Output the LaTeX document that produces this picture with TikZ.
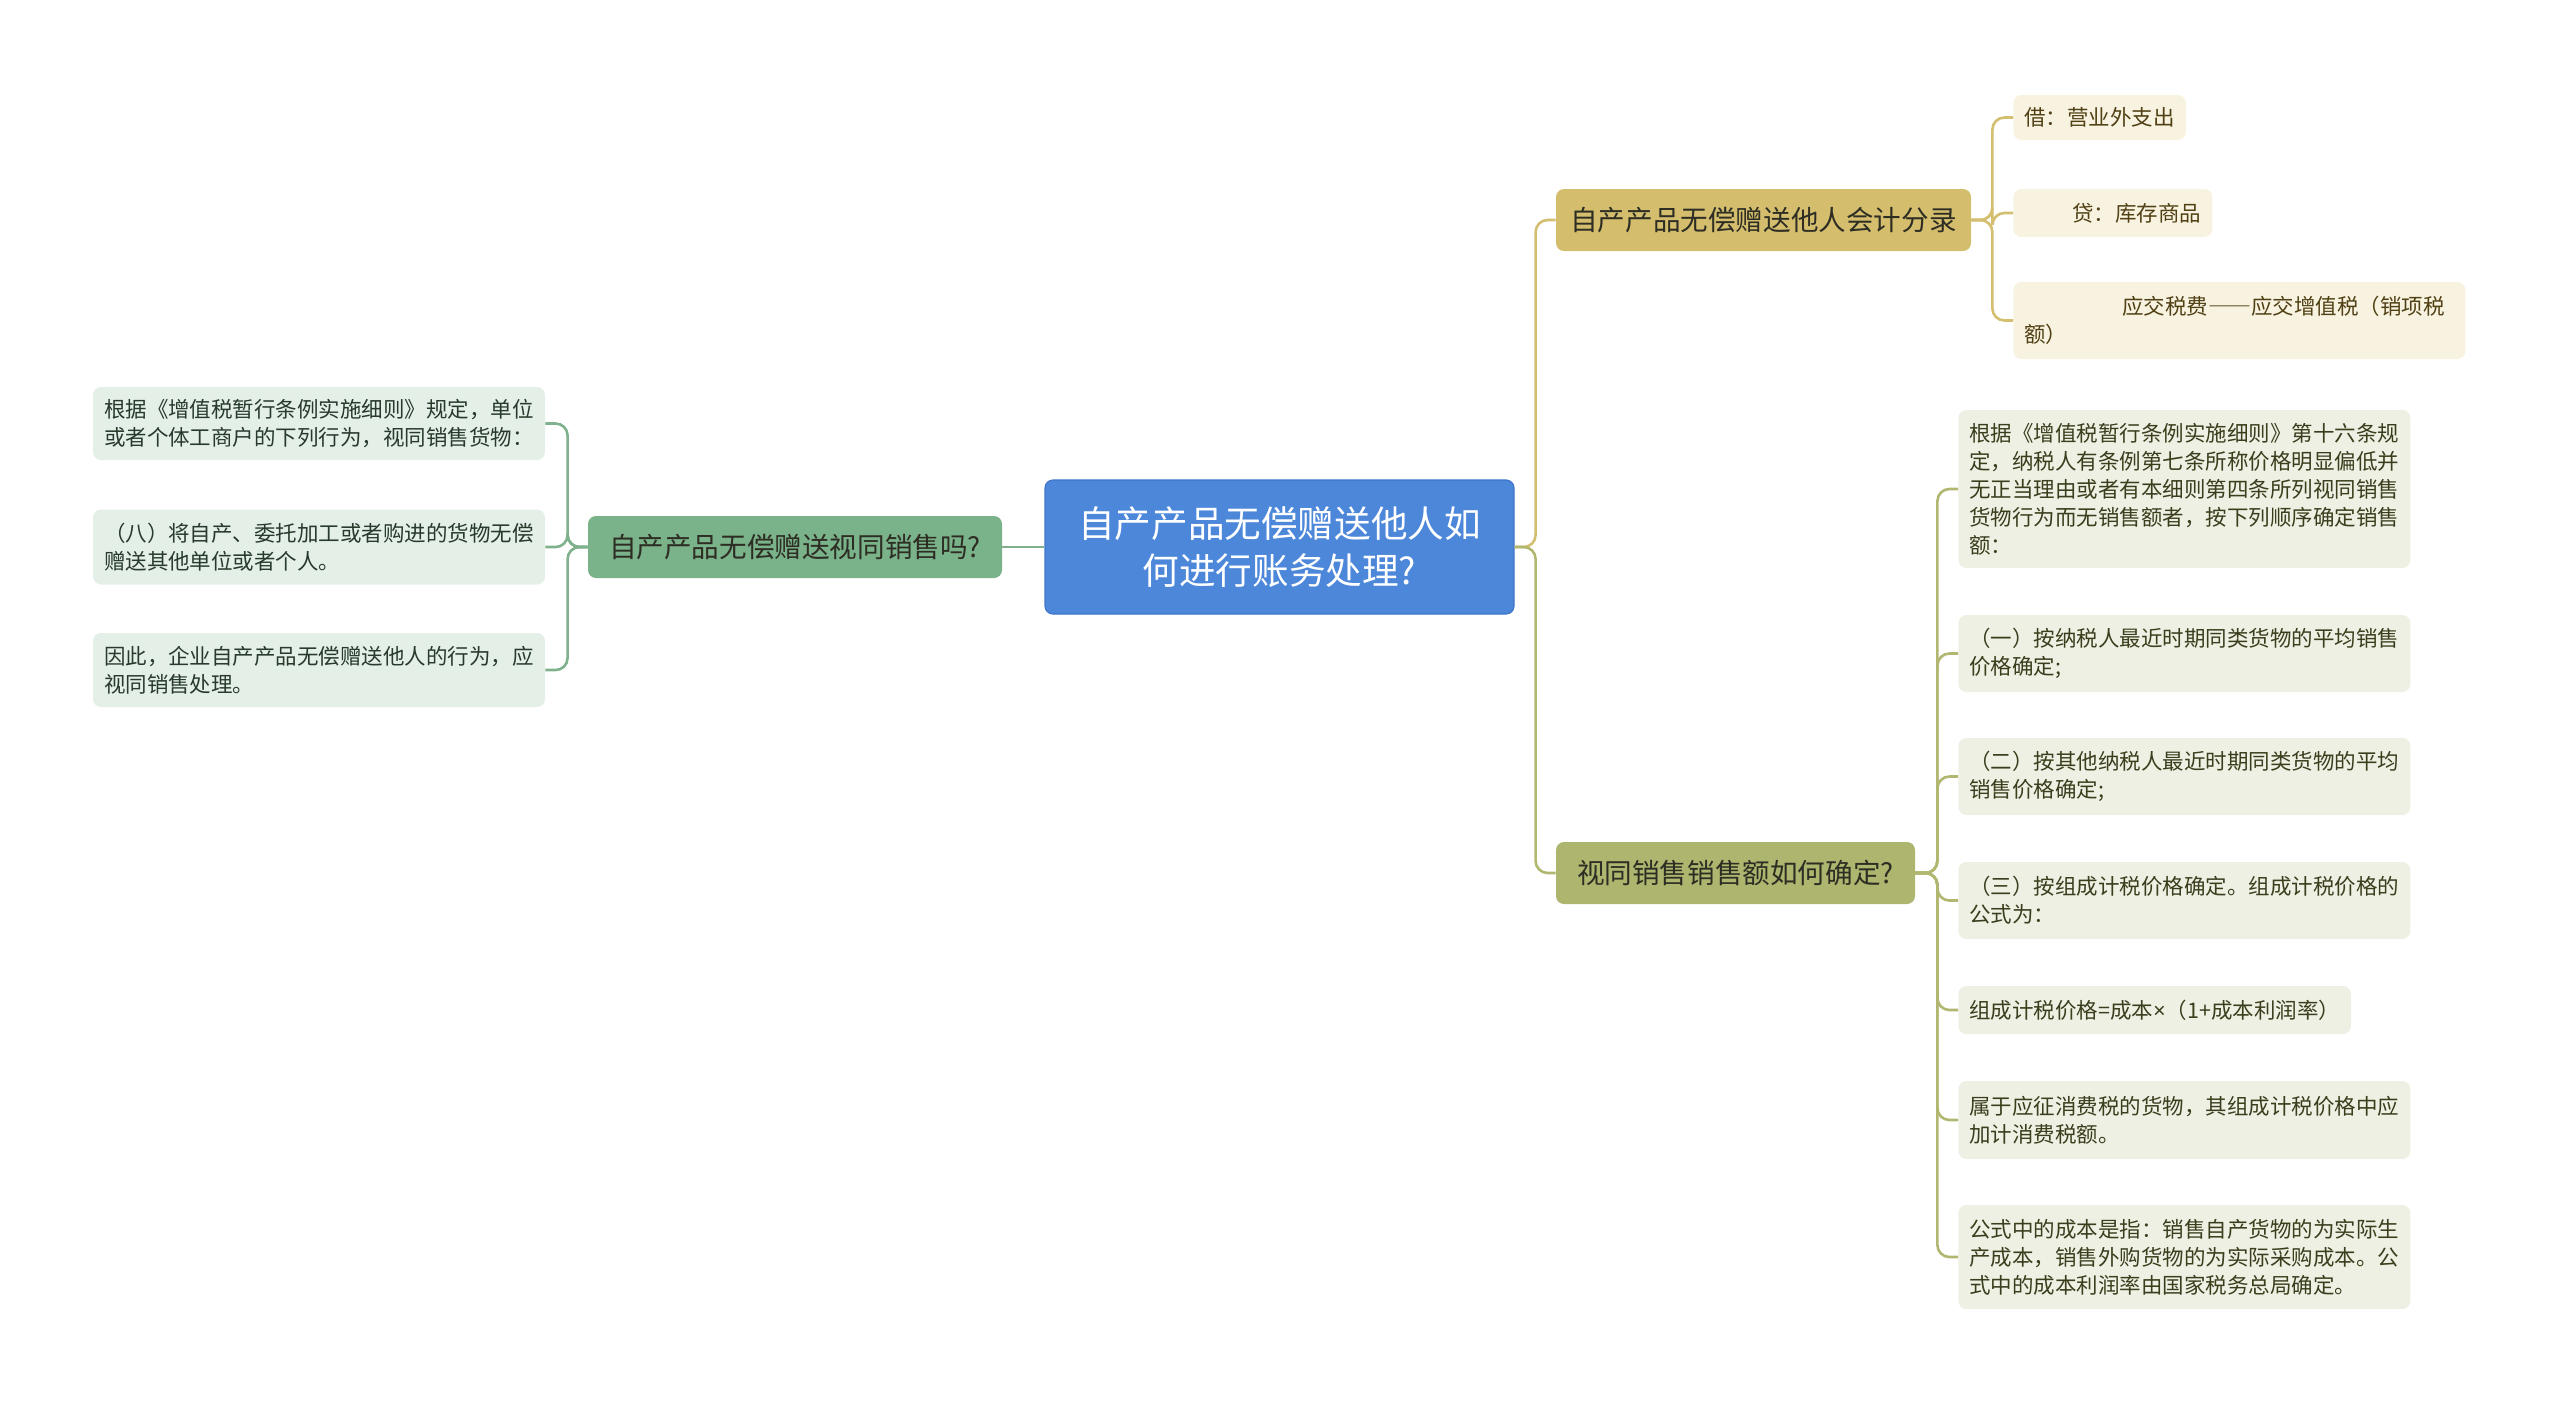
\documentclass[tikz,border=0pt]{standalone}
\usepackage{fontspec}
\setmainfont{Noto Sans CJK SC}
\newfontfamily\latinfont{Noto Sans}
\usetikzlibrary{positioning}
\definecolor{root-blue}{RGB}{76, 135, 218}
\definecolor{root-edge}{RGB}{62, 118, 200}
\definecolor{branch-green}{RGB}{122, 178, 138}
\definecolor{leaf-green}{RGB}{228, 239, 231}
\definecolor{line-green}{RGB}{127, 178, 140}
\definecolor{text-green}{RGB}{40, 58, 44}
\definecolor{branch-gold}{RGB}{212, 190, 110}
\definecolor{leaf-gold}{RGB}{248, 243, 225}
\definecolor{line-gold}{RGB}{212, 191, 112}
\definecolor{text-gold}{RGB}{80, 64, 20}
\definecolor{branch-olive}{RGB}{173, 181, 110}
\definecolor{leaf-olive}{RGB}{239, 240, 228}
\definecolor{line-olive}{RGB}{177, 183, 112}
\definecolor{text-olive}{RGB}{58, 62, 28}
\definecolor{text-dark}{RGB}{45, 45, 35}

\tikzset{
  root/.style={fill=root-blue, draw=root-edge, line width=0.6pt, rounded corners=4pt,
    text=white, align=center, minimum width=234.5pt, minimum height=67pt,
    font=\fontsize{18.3}{23.7}\selectfont},
  branch/.style={rounded corners=4pt, text=text-dark, minimum height=31pt,
    inner xsep=5pt, font=\fontsize{13.8}{17}\selectfont},
  leaf/.style={rounded corners=4pt, align=left, inner xsep=5.5pt, inner ysep=4.5pt,
    font=\fontsize{10.75}{14}\selectfont},
  longleaf/.style={leaf, text width=215pt},
  link/.style={line width=1.3pt, rounded corners=6pt}
}

\begin{document}
\begin{tikzpicture}[x=0.5pt, y=-0.5pt]
\useasboundingbox (0,0) rectangle (2560,1404);

% centre
\node[root] (root) at (1279.5,547) {自产产品无偿赠送他人如\\何进行账务处理?};

% left side
\node[branch, fill=branch-green, minimum width=207pt] (same) at (795,547) {自产产品无偿赠送视同销售吗?};
\node[longleaf, fill=leaf-green, text=text-green, minimum height=36.5pt] (rule) at (319,423.5)
  {根据《增值税暂行条例实施细则》规定，单位\\或者个体工商户的下列行为，视同销售货物：};
\node[longleaf, fill=leaf-green, text=text-green, minimum height=37.5pt] (eight) at (319,547)
  {（八）将自产、委托加工或者购进的货物无偿\\赠送其他单位或者个人。};
\node[longleaf, fill=leaf-green, text=text-green, minimum height=37pt] (hence) at (319,670)
  {因此，企业自产产品无偿赠送他人的行为，应\\视同销售处理。};

% right side, entries
\node[branch, fill=branch-gold, minimum width=207.5pt] (entry) at (1763.5,220) {自产产品无偿赠送他人会计分录};
\node[leaf, fill=leaf-gold, text=text-gold, anchor=west, minimum height=22.5pt] (debit) at (2013,117.5)
  {借：营业外支出};
\node[leaf, fill=leaf-gold, text=text-gold, anchor=west, minimum height=24pt] (credit) at (2013,213)
  {\hspace*{24pt}贷：库存商品};
\node[longleaf, fill=leaf-gold, text=text-gold, anchor=west, minimum height=38.5pt] (vat) at (2013,320.5)
  {\hspace*{49pt}应交税费{\addfontfeature{RawFeature=+fwid}——}应交增值税（销项税\\额）};

% right side, amount
\node[branch, fill=branch-olive, minimum width=179.5pt] (amount) at (1735.5,873) {视同销售销售额如何确定?};
\node[longleaf, fill=leaf-olive, text=text-olive, anchor=west, minimum height=79pt] (art) at (1958,489)
  {根据《增值税暂行条例实施细则》第十六条规\\定，纳税人有条例第七条所称价格明显偏低并\\无正当理由或者有本细则第四条所列视同销售\\货物行为而无销售额者，按下列顺序确定销售\\额：};
\node[longleaf, fill=leaf-olive, text=text-olive, anchor=west, minimum height=38.5pt] (one) at (1958,653.5)
  {（一）按纳税人最近时期同类货物的平均销售\\价格确定;};
\node[longleaf, fill=leaf-olive, text=text-olive, anchor=west, minimum height=38.5pt] (two) at (1958,776.5)
  {（二）按其他纳税人最近时期同类货物的平均\\销售价格确定;};
\node[longleaf, fill=leaf-olive, text=text-olive, anchor=west, minimum height=38.5pt] (three) at (1958,900.5)
  {（三）按组成计税价格确定。组成计税价格的\\公式为：};
\node[leaf, fill=leaf-olive, text=text-olive, anchor=west, minimum height=24pt] (formula) at (1958,1010)
  {组成计税价格=成本{\latinfont ×}（1+成本利润率）};
\node[longleaf, fill=leaf-olive, text=text-olive, anchor=west, minimum height=39pt] (excise) at (1958,1120)
  {属于应征消费税的货物，其组成计税价格中应\\加计消费税额。};
\node[longleaf, fill=leaf-olive, text=text-olive, anchor=west, minimum height=52pt] (cost) at (1958,1257)
  {公式中的成本是指：销售自产货物的为实际生\\产成本，销售外购货物的为实际采购成本。公\\式中的成本利润率由国家税务总局确定。};

% connectors
\draw[link, line-green] (root.west) -- (same.east);
\foreach \leaf in {rule,eight,hence}
  \draw[link, line-green] (same.west) -- ++(-20,0) |- (\leaf.east);
\draw[link, line-gold] (root.east) -- ++(21,0) |- (entry.west);
\draw[link, line-olive] (root.east) -- ++(21,0) |- (amount.west);
\foreach \leaf in {debit,credit,vat}
  \draw[link, line-gold] (entry.east) -- ++(21,0) |- (\leaf.west);
\foreach \leaf in {art,one,two,three,formula,excise,cost}
  \draw[link, line-olive] (amount.east) -- ++(22,0) |- (\leaf.west);
\end{tikzpicture}
\end{document}
